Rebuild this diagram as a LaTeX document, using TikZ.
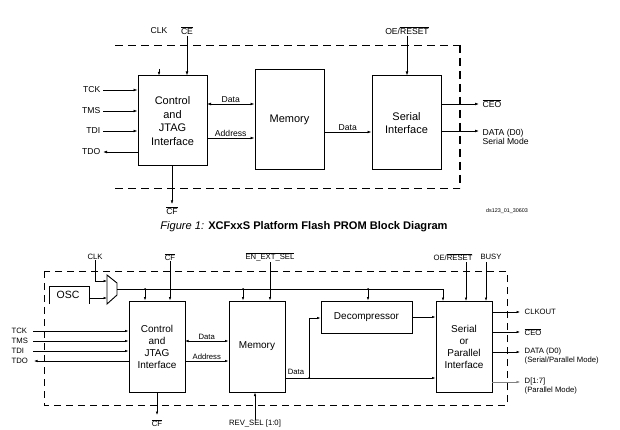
\documentclass[tikz,border=0pt]{standalone}
\usepackage{fontspec}
\setmainfont{Liberation Sans}
\usetikzlibrary{arrows.meta}
\newcommand{\ovl}[1]{$\overline{\hbox{#1}}$}
\begin{document}
\begin{tikzpicture}[x=1pt,y=-1pt,
  box/.style={draw,line width=1pt,inner sep=0pt,align=center},
  tbox/.style={box,font=\fontsize{11}{13.5}\selectfont},
  bbox/.style={box,font=\fontsize{10}{12}\selectfont},
  lbl/.style={inner sep=0.5pt,font=\fontsize{8.6}{9.8}\selectfont},
  slbl/.style={inner sep=0.5pt,font=\fontsize{7.7}{8.8}\selectfont},
  arr/.style={-{Latex[length=4pt,width=2.8pt]},line width=0.7pt},
  sarr/.style={-{Latex[length=3.5pt,width=2.5pt]},line width=0.6pt},
  dbl/.style={{Latex[length=4pt,width=2.8pt]}-{Latex[length=4pt,width=2.8pt]},line width=0.7pt},
  sdbl/.style={{Latex[length=3.5pt,width=2.5pt]}-{Latex[length=3.5pt,width=2.5pt]},line width=0.6pt},
  dsh/.style={dash pattern=on 8pt off 5pt,line width=0.9pt},
  jdot/.style={circle,fill,inner sep=0pt,minimum size=2pt}
]
\useasboundingbox[fill=white] (0,0) rectangle (620,430);

% ================= TOP DIAGRAM =================
\draw[dsh] (115,45) -- (460,45);
\draw[dsh] (115,188) -- (460,188);
\draw[dsh,line width=1.8pt] (460,45) -- (460,188);

\node[tbox,minimum width=69pt,minimum height=90pt] (ctl) at (172.5,121) {Control\\and\\JTAG\\Interface};
\node[tbox,minimum width=69pt,minimum height=100pt] (mem) at (289.5,120) {Memory};
\node[tbox,minimum width=69pt,minimum height=94pt] (ser) at (406.5,123) {Serial\\Interface};

\node[lbl] (clk) at (159,31) {CLK};
\node[lbl] (ce) at (187,31) {\ovl{CE}};
\node[lbl] (oe) at (407,31) {OE/\ovl{RESET}};
\coordinate (clkt) at (159,69);
\draw[sarr] (clkt) -- (clkt |- ctl.north);
\draw[arr] (ce.south) -- (ce.south |- ctl.north);
\draw[arr] (oe.south) -- (oe.south |- ser.north);

\node[lbl,anchor=east] (tck) at (101,90) {TCK};
\node[lbl,anchor=east] (tms) at (101,111) {TMS};
\node[lbl,anchor=east] (tdi) at (101,131) {TDI};
\node[lbl,anchor=east] (tdo) at (101,152) {TDO};
\draw[arr,line width=0.5pt] ([xshift=2pt]tck.east) -- (tck.east -| ctl.west);
\draw[arr] ([xshift=2pt]tms.east) -- (tms.east -| ctl.west);
\draw[arr] ([xshift=2pt]tdi.east) -- (tdi.east -| ctl.west);
\draw[arr] (tdo.east -| ctl.west) -- ([xshift=2pt]tdo.east);

\coordinate (d1) at (207,104);
\draw[dbl] (d1) -- (d1 -| mem.west) node[lbl,midway,above=1pt] (dlab) {Data};
\coordinate (a1) at (207,138);
\draw[arr] (a1) -- (a1 -| mem.west) node[lbl,midway,above=1pt] (alab) {Address};
\coordinate (d2) at (324,132);
\draw[arr] (d2) -- (d2 -| ser.west) node[lbl,midway,above=1pt] (d2lab) {Data};

\node[lbl,anchor=west] (ceo) at (482,104) {\ovl{CEO}};
\node[lbl,anchor=west,align=left] (dat) at (482,137) {DATA (D0)\\Serial Mode};
\draw[arr] (ser.east |- ceo.west) -- ([xshift=-3pt]ceo.west);
\draw[arr] (441,131) -- (479,131);

\node[lbl] (cf) at (172,211) {\ovl{CF}};
\coordinate (cfs) at (172,166);
\draw[sarr,line width=0.5pt] (cfs) -- (172,204);

\node[inner sep=0pt,font=\fontsize{5.4}{6}\selectfont] (ds) at (507,211) {ds123\_01\_30603};
\node[inner sep=0pt,font=\fontsize{11.1}{12}\selectfont] (cap) at (304,227) {\textit{Figure 1:} \textbf{XCFxxS Platform Flash PROM Block Diagram}};

% ================= BOTTOM DIAGRAM =================
\draw[dash pattern=on 7pt off 5pt,line width=0.8pt] (44,271) rectangle (507,405);

\node[font=\fontsize{10.5}{12}\selectfont,inner sep=0pt] (osc) at (68,295) {OSC};
\draw[line width=1pt] (49,304) -- (49,286) -- (89,286) -- (89,304);
\draw[line width=0.9pt] (107,275) -- (117,283) -- (117,295) -- (107,304) -- cycle;
\coordinate (muxo) at (117,289);
\draw[sarr] (89,298) -- (107,298);

\node[slbl] (clk2) at (95,257) {CLK};
\draw[sarr] (clk2.south) -- (95,281) -- (107,281);

\node[bbox,minimum width=56pt,minimum height=91pt] (ctl2) at (157,346.5) {Control\\and\\JTAG\\Interface};
\node[bbox,minimum width=56pt,minimum height=91pt] (mem2) at (257,346.5) {Memory};
\node[bbox,minimum width=91pt,minimum height=32pt] (dec) at (366.5,317) {Decompressor};
\node[bbox,minimum width=56pt,minimum height=91pt] (ser2) at (464,346.5) {Serial\\or\\Parallel\\Interface};

% clock bus
\draw[line width=0.6pt] (muxo) -- (443,289);
\draw[sarr] (443,289) -- (443,301);
\foreach \xx/\tg in {145/ctl2,243/mem2,368/dec}{
  \node[jdot] at (\xx,289) {};
  \draw[sarr] (\xx,289) -- (\xx,0 |- \tg.north);
}

\node[slbl] (cft) at (170,257) {\ovl{CF}};
\draw[sarr] (cft.south) -- (cft.south |- ctl2.north);
\node[slbl] (en) at (270,257) {\ovl{EN\_EXT\_SEL}};
\draw[sarr] (en.south) -- (en.south |- mem2.north);
\node[slbl] (oe2) at (453,257) {OE/\ovl{RESET}};
\draw[sarr] (466,262) -- (466,301);
\node[slbl] (busy) at (491,257) {BUSY};
\draw[sarr] (486,262) -- (486,301);

\node[slbl,anchor=west] (tck2) at (11,331) {TCK};
\node[slbl,anchor=west] (tms2) at (11,341) {TMS};
\node[slbl,anchor=west] (tdi2) at (11,351) {TDI};
\node[slbl,anchor=west] (tdo2) at (11,361) {TDO};
\draw[sarr] (33,331) -- (ctl2.west |- tck2.west);
\draw[sarr] (33,341) -- (ctl2.west |- tms2.west);
\draw[sarr] (33,351) -- (ctl2.west |- tdi2.west);
\draw[sarr] (ctl2.west |- tdo2.west) -- (34,361);

\coordinate (bd1) at (185,341);
\draw[sdbl] (bd1) -- (bd1 -| mem2.west) node[slbl,midway,above=1pt] (bdlab) {Data};
\coordinate (ba1) at (185,361);
\draw[sarr] (ba1) -- (ba1 -| mem2.west) node[slbl,midway,above=1pt] (balab) {Address};

\coordinate (bd2) at (285,378);
\draw[sarr] (bd2) -- (bd2 -| ser2.west);
\node[slbl] (bd2lab) at (296,372) {Data};
\node[jdot] (bj) at (309,378) {};
\draw[sarr] (bj.center) -- (309,318) -- (dec.west |- 0,318);
\draw[sarr] (dec.east) -- (dec.east -| ser2.west);

\node[slbl,anchor=west] (clko) at (524,312) {CLKOUT};
\node[slbl,anchor=west] (ceo2) at (524,332) {\ovl{CEO}};
\node[slbl,anchor=north west,align=left] (dat2) at (524,347) {DATA (D0)\\(Serial/Parallel Mode)};
\node[slbl,anchor=north west,align=left] (dpar) at (524,377) {D[1:7]\\(Parallel Mode)};
\draw[sarr] (ser2.east |- clko.west) -- (520,312);
\draw[sarr] (ser2.east |- ceo2.west) -- (520,332);
\draw[sarr] (492,352) -- (520,352);
\draw[sarr,line width=0.4pt,gray] (492,382) -- (520,382);

\node[slbl] (cfb) at (157,423) {\ovl{CF}};
\draw[sarr] (ctl2.south) -- (157,415);
\node[slbl] (rev) at (255,424) {REV\_SEL [1:0]};
\draw[sarr] (rev.north) -- (rev.north |- mem2.south);
\end{tikzpicture}
\end{document}
